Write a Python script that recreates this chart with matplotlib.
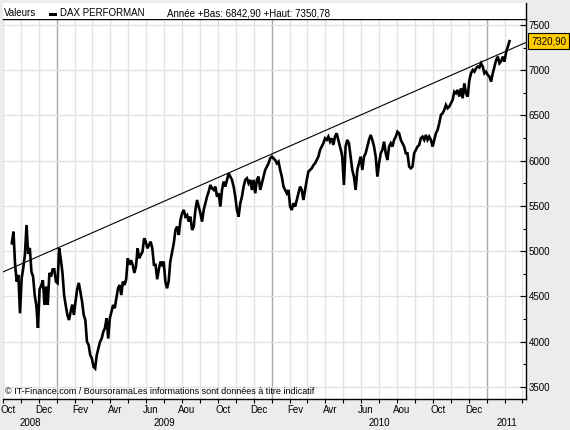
import matplotlib
matplotlib.use("Agg")
import matplotlib.pyplot as plt
import matplotlib.dates as mdates
from matplotlib.patches import Rectangle
from matplotlib.lines import Line2D
import pandas as pd

# DAX closes, in three stretches (start, end, values)
seg1_span = ("2008-10-16", "2009-07-12")
seg1_values = [5088, 5216, 4848, 4664, 4738, 4314, 4700, 4815, 4959, 5290, 4970, 5036,
               4775, 4720, 4516, 4400, 4152, 4580, 4620, 4680, 4406, 4610, 4406, 4760,
               4720, 4800, 4800, 4664, 4648, 5032, 4910, 4760, 4516, 4400, 4296, 4240,
               4332, 4410, 4296, 4445, 4580, 4650, 4550, 4445, 4296, 4240, 4000, 3965,
               3853, 3816, 3724, 3705, 3853, 3927, 4000, 4035, 4110, 4150, 4259, 4035,
               4259, 4330, 4406, 4370, 4480, 4590, 4627, 4516, 4664, 4627, 4690, 4922,
               4850, 4900, 4850, 4760, 4830, 5032, 4922, 4960, 4995, 5143, 5106, 5032,
               5070, 5106, 5032, 4850, 4850, 4690, 4800, 4885, 4850, 4885, 4664, 4590,
               4664, 4885]

seg2_span = ("2009-07-18", "2010-04-29")
seg2_values = [5088, 5235, 5272, 5180, 5345, 5419, 5456, 5382, 5400, 5327, 5382, 5235,
               5272, 5456, 5566, 5493, 5419, 5327, 5456, 5530, 5603, 5659, 5732, 5695,
               5677, 5714, 5603, 5640, 5493, 5677, 5769, 5714, 5788, 5861, 5824, 5788,
               5714, 5603, 5456, 5382, 5530, 5603, 5714, 5788, 5806, 5751, 5788, 5677,
               5788, 5640, 5788, 5824, 5677, 5751, 5824, 5898, 5935, 5971, 6027, 6045,
               6027, 6008, 5971, 5990, 5898, 5824, 5714, 5677, 5640, 5677, 5493, 5456,
               5530, 5493, 5566, 5640, 5714, 5677, 5566, 5677, 5788, 5880, 5898, 5916,
               5950, 5971, 6008, 6045, 6119, 6156, 6193, 6248, 6230, 6266, 6211, 6248,
               6174, 6266, 6303, 6230, 6156, 6082]

seg3_span = ("2010-04-30", "2011-02-08")
seg3_values = [6045, 5732, 6156, 6230, 6193, 6045, 5898, 5824, 5677, 5898, 5971, 6045,
               5898, 6045, 6082, 6156, 6230, 6285, 6230, 6156, 6045, 5824, 5971, 6082,
               6119, 6211, 6082, 6008, 6156, 6193, 6156, 6230, 6266, 6321, 6303, 6230,
               6193, 6156, 6082, 6082, 5935, 5916, 5935, 6082, 6119, 6156, 6174, 6248,
               6266, 6230, 6285, 6230, 6266, 6230, 6156, 6230, 6303, 6340, 6414, 6506,
               6524, 6561, 6616, 6580, 6598, 6635, 6672, 6763, 6745, 6782, 6709, 6800,
               6690, 6855, 6745, 6709, 6892, 6966, 7003, 6984, 7021, 7040, 7030, 7077,
               7040, 6966, 6984, 6947, 6929, 6874, 6966, 7040, 7113, 7150, 7077, 7100,
               7150, 7095, 7205, 7260, 7320.90]

trend_dates = ["2008-10-01", "2011-03-08"]
trend_values = [4771, 7307]

last_label = "7320,90"
last_value = 7320.90
header_name = "DAX PERFORMAN"
header_stats = "Année +Bas: 6842,90 +Haut: 7350,78"
footer = "© IT-Finance.com / BoursoramaLes informations sont données à titre indicatif"
month_names = ["Jan", "Fev", "Mar", "Avr", "Mai", "Jun",
               "Jul", "Aou", "Sep", "Oct", "Nov", "Dec"]
y_ticks = [3500, 4000, 4500, 5000, 5500, 6000, 6500, 7000, 7500]

plt.rcParams["font.family"] = ["Liberation Sans", "DejaVu Sans"]
FS = 7
W, H = 570, 430
bg = "#ececec"
grid_light = "#e2e2e2"
grid_dark = "#a8a8a8"

dates = []
values = []
for span, vals in [(seg1_span, seg1_values), (seg2_span, seg2_values), (seg3_span, seg3_values)]:
    dates.extend(pd.date_range(span[0], span[1], periods=len(vals)))
    values.extend(vals)

fig = plt.figure(figsize=(W / 100, H / 100), dpi=100, facecolor=bg)
ax = fig.add_axes([3 / W, (H - 399) / H, (526 - 3) / W, (399 - 19) / H])

x0 = mdates.date2num(pd.Timestamp(trend_dates[0]))
x1 = mdates.date2num(pd.Timestamp(trend_dates[1]))
ax.set_xlim(x0, x1)
ax.set_ylim(3367, 7566)

# month grid, darker line at each new year
months = pd.date_range("2008-10-01", "2011-03-01", freq="MS")
for m in months:
    ax.axvline(m, color=grid_dark if m.month == 1 else grid_light, lw=1, zorder=0)
for v in y_ticks:
    ax.axhline(v, color=grid_light, lw=1, zorder=0)

ax.plot(pd.to_datetime(trend_dates), trend_values, color="black", lw=0.8)
ax.plot(dates, values, color="black", lw=1.9, solid_joinstyle="miter")

ax.spines["left"].set_visible(False)
for s in ["top", "right", "bottom"]:
    ax.spines[s].set_linewidth(1)

ax.set_xticks(months)
ax.tick_params(axis="x", direction="out", length=3, width=0.8, labelbottom=False)
for m in months:
    if m.month % 2 == 0 and m < pd.Timestamp("2011-01-01"):
        ax.annotate(month_names[m.month - 1], xy=(m, 0), xycoords=("data", "axes fraction"),
                    xytext=(5, -11), textcoords="offset pixels",
                    ha="center", va="center", fontsize=FS)

for yr in [2008, 2009, 2010, 2011]:
    a = max(x0, mdates.date2num(pd.Timestamp(f"{yr}-01-01")))
    b = min(x1, mdates.date2num(pd.Timestamp(f"{yr + 1}-01-01")))
    ax.annotate(str(yr), xy=((a + b) / 2, 0), xycoords=("data", "axes fraction"),
                xytext=(0, -24), textcoords="offset pixels",
                ha="center", va="center", fontsize=FS)

ax.yaxis.tick_right()
ax.set_yticks(y_ticks)
ax.set_yticks([v + 250 for v in y_ticks[:-1]], minor=True)
ax.tick_params(axis="y", which="major", direction="in", length=4, width=0.8, pad=2, labelsize=FS)
ax.tick_params(axis="y", which="minor", direction="in", length=2, width=0.8)
ax.set_xticks([], minor=True)

ax.annotate(last_label, xy=(1, last_value), xycoords=("axes fraction", "data"),
            xytext=(5, 0), textcoords="offset pixels", ha="left", va="center",
            fontsize=FS, bbox=dict(boxstyle="square,pad=0.3", fc="#ffcc00", ec="black", lw=0.8))

# header strip above the plot
fig.add_artist(Rectangle((3 / W, (H - 19) / H), 523 / W, 16 / H, transform=fig.transFigure,
                         fc="white", ec="none"))
fig.add_artist(Line2D([526 / W, 526 / W], [(H - 19) / H, (H - 3) / H],
                      transform=fig.transFigure, color="black", lw=1))
fig.add_artist(Rectangle((49 / W, (H - 16) / H), 8 / W, 3 / H, transform=fig.transFigure,
                         fc="black", ec="none"))
fig.text(4 / W, (H - 13) / H, "Valeurs", fontsize=FS, va="center", ha="left")
fig.text(60 / W, (H - 13) / H, header_name, fontsize=FS, va="center", ha="left")
fig.text(167 / W, (H - 13) / H, header_stats, fontsize=FS, va="center", ha="left")
fig.text(5 / W, (H - 391) / H, footer, fontsize=FS - 0.5, va="center", ha="left")

fig.savefig("out.png", dpi=100, facecolor=bg)
